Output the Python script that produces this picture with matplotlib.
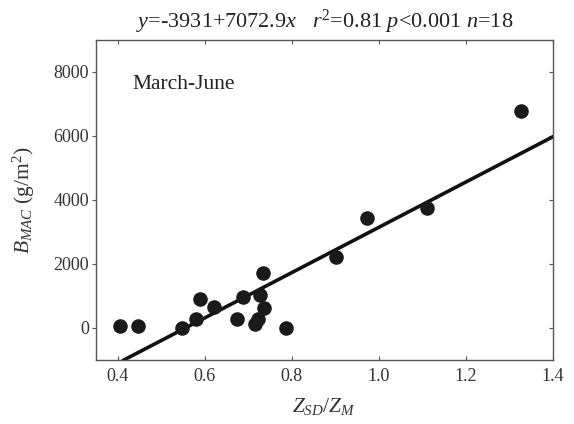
import numpy as np
import matplotlib
matplotlib.use("Agg")
import matplotlib.pyplot as plt

plt.rcParams['font.family'] = ['Liberation Serif', 'DejaVu Serif']
plt.rcParams['mathtext.fontset'] = 'custom'
plt.rcParams['mathtext.rm'] = 'Liberation Serif'
plt.rcParams['mathtext.it'] = 'Liberation Serif:italic'

# ratio Z_SD/Z_M and macrophyte biomass (g/m2)
zsd_zm = [0.405, 0.447, 0.547, 0.581, 0.589, 0.621, 0.675, 0.688, 0.716,
          0.722, 0.728, 0.734, 0.736, 0.786, 0.903, 0.973, 1.110, 1.326]
b_mac = [53, 53, 12, 293, 918, 656, 293, 968, 120,
         265, 1043, 1719, 637, 12, 2219, 3438, 3762, 6781]

# fitted line y = a + b*x
fit_a = -3931
fit_b = 7072.9
fit_x = [0.414, 1.4]

xticks = [0.4, 0.6, 0.8, 1.0, 1.2, 1.4]
yticks = [0, 2000, 4000, 6000, 8000]

fig = plt.figure(figsize=(5.74, 4.24), dpi=100)
ax = fig.add_axes([0.167, 0.151, 0.796, 0.755])

ax.scatter(zsd_zm, b_mac, s=110, color='#1a1a1a', zorder=3, linewidths=0)
fx = np.array(fit_x)
ax.plot(fx, fit_a + fit_b * fx, color='#111111', lw=2.6, zorder=2)

ax.set_xlim(0.35, 1.4)
ax.set_ylim(-1000, 9000)
ax.set_xticks(xticks)
ax.set_xticklabels(['%.1f' % v for v in xticks])
ax.set_yticks(yticks)

for s in ax.spines.values():
    s.set_color('#555555')
    s.set_linewidth(1.0)

ax.tick_params(axis='x', direction='in', length=3, color='#555555',
               labelsize=13, labelcolor='#333333', top=True, pad=6)
ax.tick_params(axis='y', direction='out', length=3, color='#555555',
               labelsize=13, labelcolor='#333333', pad=2)
ax.tick_params(axis='y', which='both', right=True)
# right side ticks point inward
for t in ax.yaxis.get_major_ticks():
    t.tick2line.set_marker(matplotlib.lines.TICKLEFT)

ax.text(0.081, 0.86, 'March-June', transform=ax.transAxes, fontsize=15.5,
        ha='left', va='center', color='#222222')

ax.set_title('$y$=-3931+7072.9$x$   $r^2$=0.81 $p$<0.001 $n$=18',
             fontsize=16, color='#222222', pad=9)
ax.set_xlabel('$Z_{SD}/Z_M$', fontsize=15.5, color='#333333', labelpad=8)
ax.set_ylabel('$B_{MAC}$ (g/m$^2$)', fontsize=15.5, color='#333333', labelpad=12)

fig.savefig('out.png', dpi=100)
